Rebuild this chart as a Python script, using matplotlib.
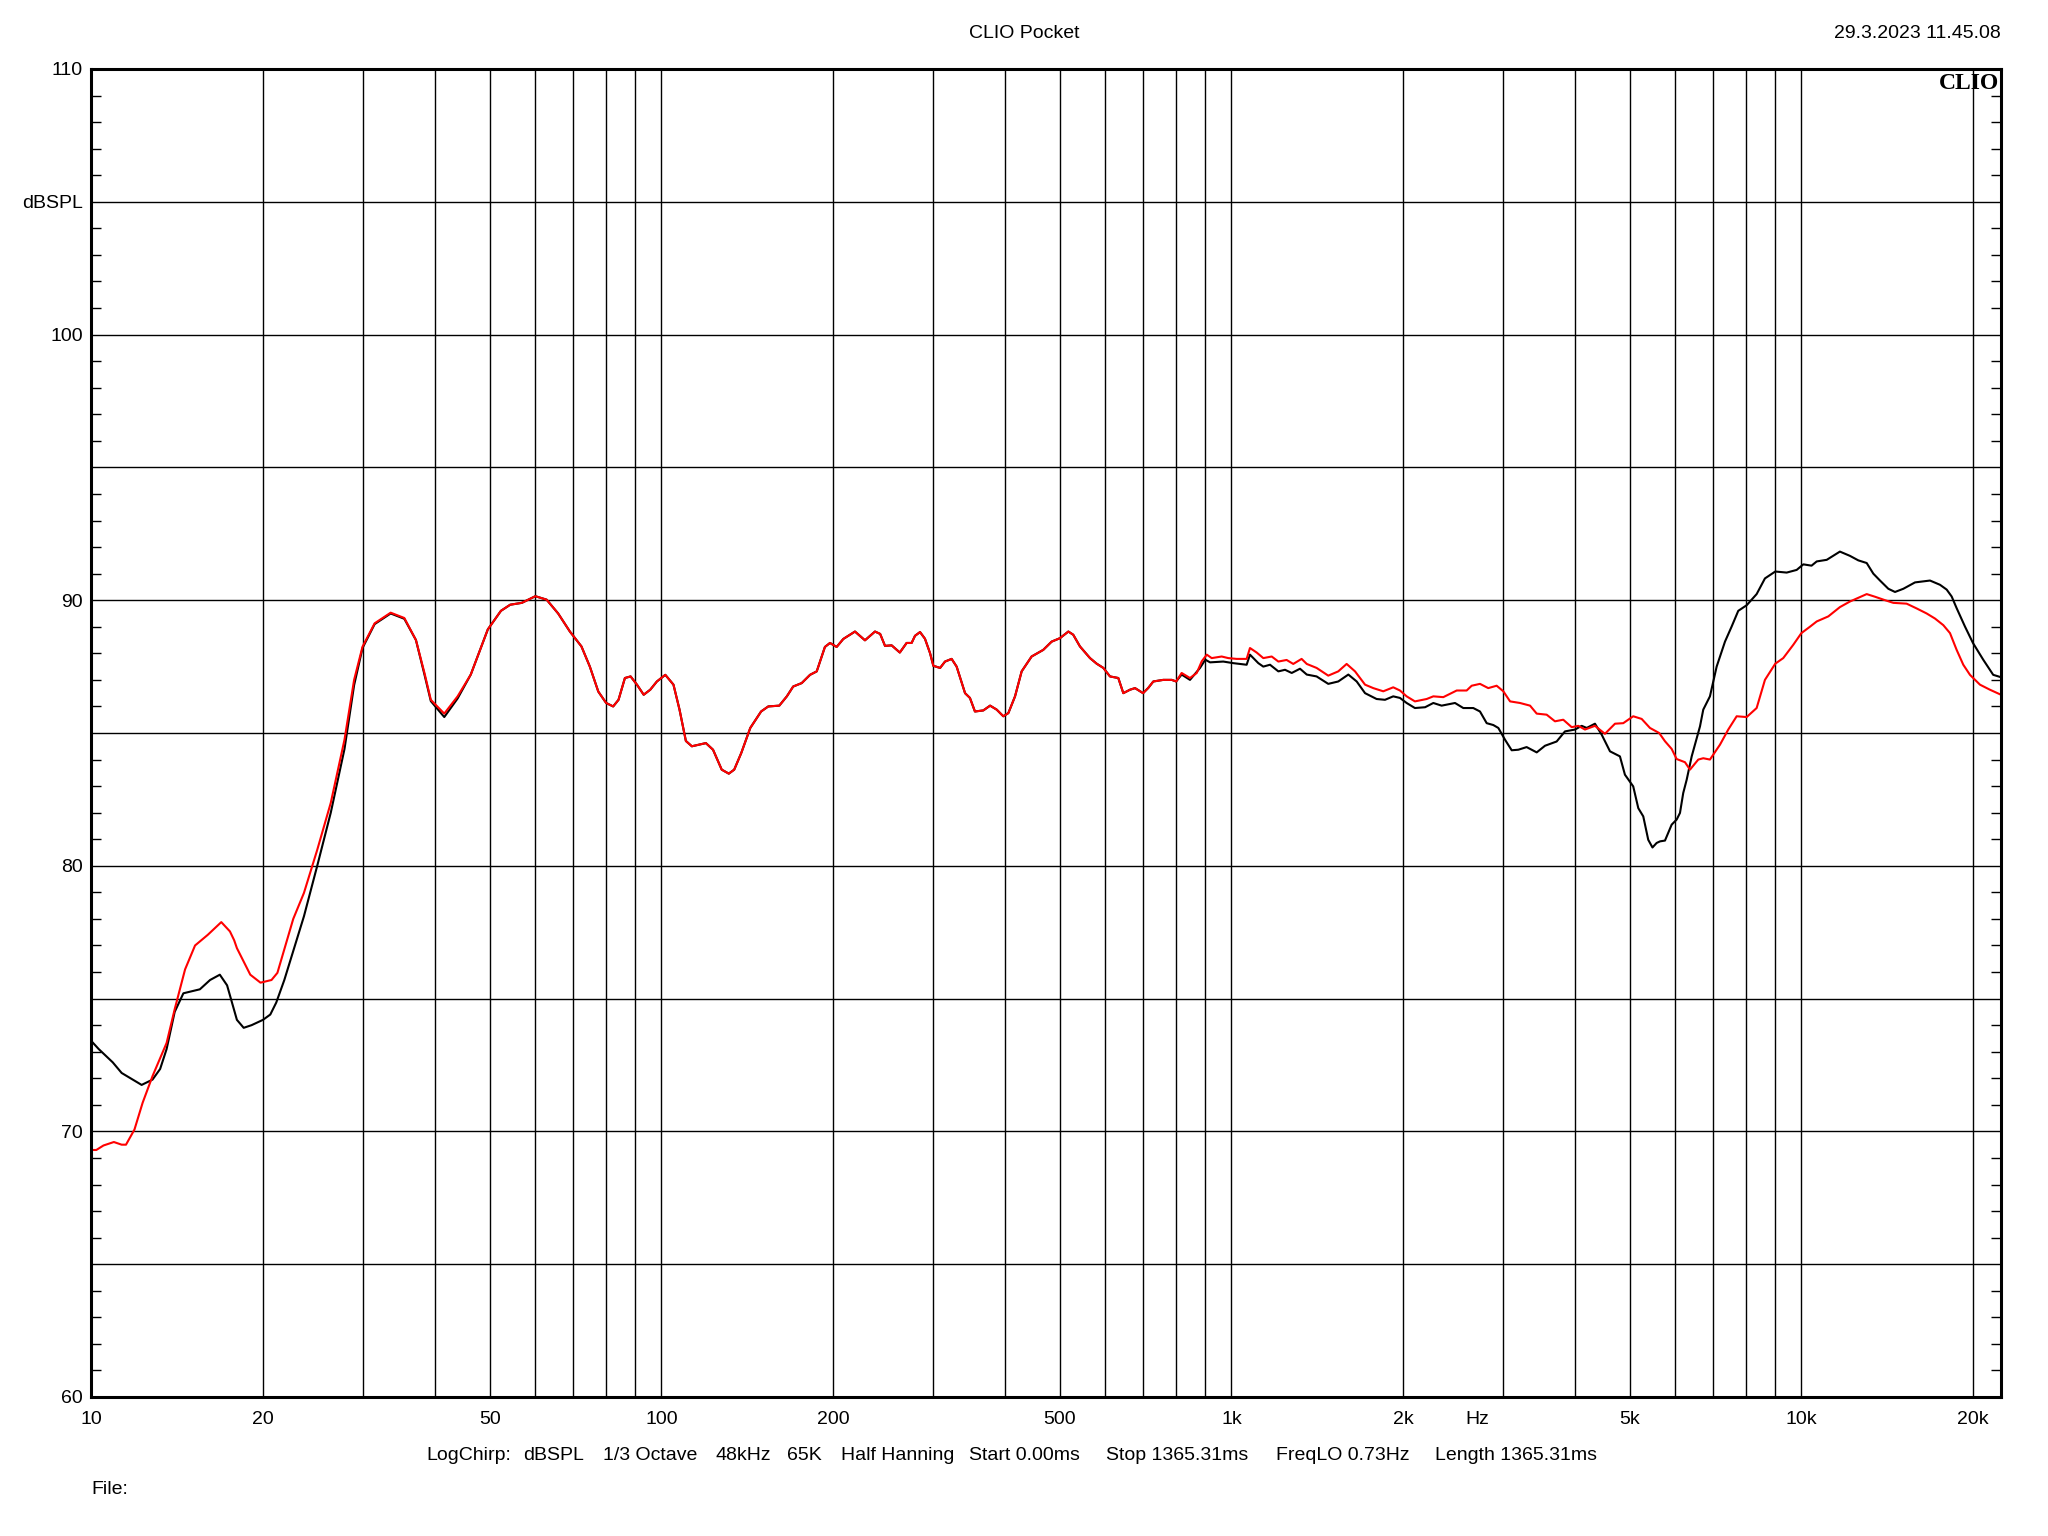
import numpy as np
import matplotlib
matplotlib.use("Agg")
import matplotlib.pyplot as plt
from matplotlib.ticker import FixedLocator, NullFormatter

plt.rcParams["font.family"] = ["Liberation Sans", "DejaVu Sans"]

# --- black trace, low end (differs from red below ~30 Hz)
blk_lo_f = [10.0, 10.3, 10.9, 11.3, 12.25, 12.8, 13.2, 13.55, 14.0, 14.5, 15.5, 16.15,
            16.8, 17.3, 18.0, 18.5, 19.1, 20.0, 20.6, 21.1, 21.8, 23.6, 24.9, 26.3,
            27.8, 28.9, 29.9, 31.4, 33.5, 35.4, 37.1, 38.4, 39.4, 41.6, 43.9, 46.3, 49.6]
blk_lo_db = [73.4, 73.1, 72.6, 72.2, 71.75, 71.95, 72.35, 73.1, 74.5, 75.2, 75.35, 75.7,
             75.9, 75.5, 74.2, 73.9, 74.0, 74.2, 74.4, 74.85, 75.7, 78.1, 80.0, 82.0,
             84.4, 86.8, 88.2, 89.1, 89.5, 89.3, 88.5, 87.2, 86.2, 85.6, 86.3, 87.2, 88.9]

# --- red trace, low end
red_lo_f = [10.0, 10.2, 10.5, 10.95, 11.3, 11.5, 11.9, 12.3, 12.8, 13.55, 14.0, 14.6,
            15.2, 16.0, 16.9, 17.5, 17.8, 18.0, 19.0, 19.8, 20.7, 21.2, 22.6, 23.6,
            24.9, 26.3, 27.8, 28.9, 29.9, 31.4, 33.5, 35.4, 37.1, 38.4, 39.4, 41.6,
            43.9, 46.3, 49.6]
red_lo_db = [69.3, 69.3, 69.47, 69.6, 69.5, 69.5, 70.07, 71.08, 72.08, 73.33, 74.6, 76.1,
             77.0, 77.4, 77.88, 77.53, 77.2, 76.9, 75.9, 75.6, 75.7, 75.97, 78.0, 78.98,
             80.6, 82.37, 84.75, 87.0, 88.25, 89.13, 89.53, 89.33, 88.5, 87.26, 86.25, 85.73,
             86.38, 87.2, 88.9]

# --- shared section 52 Hz .. 800 Hz (both traces overlap)
mid_f = [52.3, 54.3, 56.9, 60.1, 62.9, 65.9, 69.1, 72.4, 74.9, 77.5, 80.0, 82.3, 84.1,
         86.3, 88.3, 90.6, 93.1, 95.6, 98.2, 101.6, 105.0, 107.6, 110.4, 113.1, 119.7,
         123.2, 127.6, 131.3, 134.2, 138.1, 143.2, 149.6, 154.0, 161.0, 166.0, 170.3,
         176.3, 182.3, 187.3, 193.6, 197.6, 203.0, 208.5, 218.6, 227.6, 237.0, 242.0,
         246.8, 253.5, 262.0, 269.3, 274.8, 278.6, 284.3, 290.0, 296.0, 300.0, 308.3,
         314.5, 323.0, 329.6, 341.0, 347.8, 354.9, 367.1, 377.3, 387.5, 398.0, 406.2,
         417.3, 428.6, 446.2, 467.7, 483.8, 500.3, 517.6, 527.9, 542.4, 564.9, 580.3,
         596.2, 612.4, 633.3, 646.3, 664.0, 677.6, 700.0, 715.0, 729.5, 759.4, 786.0, 800.0]
mid_db = [89.6, 89.83, 89.9, 90.15, 90.02, 89.5, 88.82, 88.26, 87.5, 86.56, 86.13, 86.0, 86.25,
          87.07, 87.13, 86.82, 86.44, 86.63, 86.94, 87.19, 86.82, 85.88, 84.7, 84.5, 84.62,
          84.37, 83.62, 83.47, 83.62, 84.25, 85.19, 85.81, 86.0, 86.03, 86.38, 86.75,
          86.88, 87.19, 87.32, 88.24, 88.39, 88.24, 88.54, 88.82, 88.49, 88.82, 88.73,
          88.28, 88.3, 88.03, 88.39, 88.39, 88.66, 88.8, 88.55, 88.01, 87.53, 87.45,
          87.69, 87.79, 87.5, 86.5, 86.32, 85.81, 85.85, 86.03, 85.88, 85.63, 85.75,
          86.38, 87.32, 87.88, 88.13, 88.44, 88.57, 88.82, 88.7, 88.26, 87.82, 87.61,
          87.45, 87.13, 87.07, 86.5, 86.63, 86.69, 86.5, 86.7, 86.94, 87.0, 87.0, 86.94]

# --- black trace, high end
blk_hi_f = [818, 846, 881, 900, 917.5, 967.7, 1007.6, 1063.6, 1078, 1115, 1137.6, 1169,
            1209, 1242, 1276, 1319.5, 1356, 1411, 1479, 1540, 1604, 1659, 1716, 1798,
            1860, 1923, 1976, 2030, 2099, 2187, 2261, 2338, 2468, 2552, 2657, 2730, 2805,
            2881, 2940, 3020, 3103, 3187, 3296, 3433, 3550, 3721, 3848, 4007, 4117, 4201,
            4344, 4463, 4616, 4805, 4903, 5070, 5175, 5280, 5387, 5480, 5573, 5650, 5764,
            5922, 6042, 6124, 6205, 6292, 6421, 6640, 6728, 6912, 7102, 7345, 7546, 7750,
            8017, 8347, 8632, 9000, 9424, 9812, 10080, 10420, 10640, 11080, 11685, 12167,
            12586, 13020, 13373, 13740, 14210, 14598, 15097, 15826, 16261, 16815, 17508,
            17985, 18352, 18725, 19364, 20000, 20848, 21706, 22400]
blk_hi_db = [87.2, 87.0, 87.45, 87.76, 87.66, 87.69, 87.63, 87.57, 87.95, 87.63, 87.5, 87.57,
             87.32, 87.38, 87.26, 87.42, 87.2, 87.13, 86.85, 86.94, 87.2, 86.94, 86.5, 86.28,
             86.25, 86.38, 86.32, 86.13, 85.94, 85.97, 86.13, 86.03, 86.13, 85.94, 85.94, 85.81, 85.37,
             85.3, 85.19, 84.75, 84.35, 84.37, 84.47, 84.27, 84.52, 84.68, 85.06, 85.13, 85.27, 85.19,
             85.35, 84.94, 84.31, 84.12, 83.43, 82.99, 82.17, 81.86, 80.98, 80.69, 80.86, 80.92, 80.95,
             81.55, 81.74, 81.99, 82.74, 83.24, 84.12, 85.25, 85.88, 86.38, 87.5, 88.44, 89.01, 89.6,
             89.81, 90.23, 90.82, 91.08, 91.04, 91.14, 91.35, 91.3, 91.46, 91.52, 91.83, 91.67,
             91.5, 91.4, 91.0, 90.74, 90.43, 90.31, 90.43, 90.67, 90.7, 90.74, 90.58,
             90.4, 90.14, 89.7, 89.01, 88.39, 87.76, 87.19, 87.1]

# --- red trace, high end
red_hi_f = [818, 846, 869.4, 887.2, 905.4, 923.6, 961.6, 987.7, 1021.6, 1063.6, 1078, 1107.6,
            1137.6, 1177, 1209, 1250, 1284, 1328, 1356, 1411, 1479, 1540, 1593, 1648, 1716,
            1774, 1847, 1923, 1976, 2030, 2099, 2201, 2261, 2354, 2485, 2587, 2640, 2730,
            2823, 2920, 3000, 3083, 3209, 3342, 3433, 3574, 3696, 3822, 3954, 4061, 4172,
            4344, 4523, 4710, 4870, 5070, 5246, 5425, 5630, 5764, 5922, 6042, 6249, 6377,
            6594, 6728, 6912, 7198, 7443, 7700, 8017, 8347, 8632, 9000, 9294, 9678, 10000,
            10351, 10640, 11150, 11685, 12167, 13020, 13466, 14022, 14500, 15300, 15931,
            16590, 17156, 17745, 18230, 18725, 19235, 19760, 20574, 21418, 22400]
red_hi_db = [87.26, 87.07, 87.26, 87.7, 87.95, 87.82, 87.88, 87.82, 87.79, 87.79, 88.2, 88.03,
             87.82, 87.88, 87.69, 87.75, 87.6, 87.79, 87.6, 87.45, 87.16, 87.32, 87.6, 87.32, 86.82,
             86.69, 86.57, 86.72, 86.6, 86.38, 86.19, 86.28, 86.38, 86.35, 86.6, 86.6, 86.78, 86.85,
             86.69, 86.78, 86.57, 86.19, 86.13, 86.03, 85.73, 85.69, 85.44, 85.5, 85.22, 85.27, 85.13,
             85.27, 84.97, 85.35, 85.37, 85.63, 85.53, 85.19, 85.0, 84.69, 84.4, 84.02, 83.9, 83.62,
             84.0, 84.05, 84.0, 84.56, 85.13, 85.63, 85.6, 85.94, 87.0, 87.61, 87.82, 88.32, 88.76,
             89.0, 89.2, 89.39, 89.74, 89.95, 90.23, 90.13, 90.0, 89.9, 89.87, 89.69,
             89.5, 89.31, 89.06, 88.76, 88.13, 87.57, 87.19, 86.82, 86.63, 86.44]

xtick_vals = [10, 20, 50, 100, 200, 500, 1000, 2000, 2700, 5000, 10000, 20000]
xtick_lbls = ["10", "20", "50", "100", "200", "500", "1k", "2k", "Hz", "5k", "10k", "20k"]
ytick_vals = [60, 70, 80, 90, 100, 105, 110]
ytick_lbls = ["60", "70", "80", "90", "100", "dBSPL", "110"]

footer_parts = ["LogChirp:", "dBSPL", "1/3 Octave", "48kHz", "65K", "Half Hanning",
                "Start 0.00ms", "Stop 1365.31ms", "FreqLO 0.73Hz", "Length 1365.31ms"]
footer_x = [426, 523, 603, 716, 787, 841, 969, 1106, 1276, 1435]

blk_f = blk_lo_f + mid_f + blk_hi_f
blk_db = blk_lo_db + mid_db + blk_hi_db
red_f = red_lo_f + mid_f + red_hi_f
red_db = red_lo_db + mid_db + red_hi_db

fig = plt.figure(figsize=(20.48, 15.36), dpi=100)
ax = fig.add_axes([91.4/2048, 1 - 1397/1536, (2001 - 91.4)/2048, (1397 - 69)/1536])

# grid: every 1..9 per decade, every 5 dB
vgrid = [m*10**d for d in range(1, 5) for m in range(1, 10) if 10 < m*10**d < 22400]
for v in vgrid:
    ax.axvline(v, color="black", lw=1.0, zorder=1)
for h in range(65, 110, 5):
    ax.axhline(h, color="black", lw=1.0, zorder=1)

ax.plot(blk_f, blk_db, color="black", lw=1.5, zorder=3)
ax.plot(red_f, red_db, color="#ff0000", lw=1.5, zorder=4)

ax.set_xscale("log")
ax.set_xlim(10, 22400)
ax.set_ylim(60, 110)

ax.xaxis.set_major_locator(FixedLocator(xtick_vals))
ax.set_xticklabels(xtick_lbls)
ax.xaxis.set_minor_locator(FixedLocator([]))
ax.xaxis.set_minor_formatter(NullFormatter())
ax.tick_params(axis="x", which="major", length=0, pad=10, labelsize=14)

ax.set_yticks(ytick_vals)
ax.set_yticklabels(ytick_lbls)
ax.yaxis.set_minor_locator(FixedLocator([v for v in range(61, 110) if v % 5 != 0]))
ax.tick_params(axis="y", which="major", length=0, pad=6, labelsize=14)
ax.tick_params(axis="y", which="minor", direction="in", length=7.5, width=1.0,
               left=True, right=True)

for s in ax.spines.values():
    s.set_linewidth(2.2)
    s.set_zorder(5)

fig.text(1024/2048, 1 - 34/1536, "CLIO Pocket", ha="center", va="center", fontsize=14)
fig.text(2001/2048, 1 - 34/1536, "29.3.2023 11.45.08", ha="right", va="center", fontsize=14)
ax.text(0.999, 0.997, "CLIO", transform=ax.transAxes, ha="right", va="top",
        fontsize=17, fontweight="bold", family="Liberation Serif", zorder=6)
for part, px in zip(footer_parts, footer_x):
    fig.text(px/2048, 1 - 1455/1536, part, ha="left", va="center", fontsize=14)
fig.text(91/2048, 1 - 1489/1536, "File:", ha="left", va="center", fontsize=14)

fig.savefig("out.png", dpi=100, facecolor="white")
plt.close(fig)
